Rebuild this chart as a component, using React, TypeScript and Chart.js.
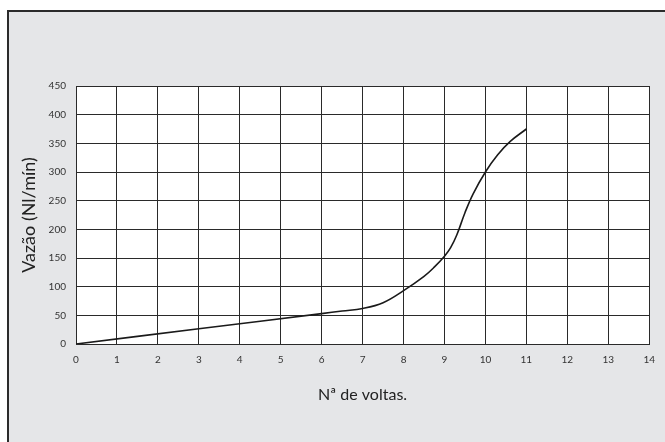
import React, { useEffect, useRef } from "react";
import { Chart, registerables } from "chart.js";

Chart.register(...registerables);

const turns = [0, 3, 6, 6.5, 7, 7.5, 8, 8.5, 8.75, 9, 9.15, 9.3, 9.5, 9.7, 10, 10.3, 10.6, 11];
const flow = [0, 26.6, 53, 57.6, 62, 72, 93, 118, 134, 153, 168, 190, 229, 262, 300, 330, 353, 375];
const xTicks = [0, 1, 2, 3, 4, 5, 6, 7, 8, 9, 10, 11, 12, 13, 14];
const yTicks = [0, 50, 100, 150, 200, 250, 300, 350, 400, 450];
const xTitle = "Nª de voltas.";
const yTitle = "Vazão (Nl/mín)";

const plotBg = {
  id: "plotBg",
  beforeDraw(chart: any) {
    const { ctx, chartArea } = chart;
    ctx.save();
    ctx.fillStyle = "#ffffff";
    ctx.fillRect(chartArea.left, chartArea.top, chartArea.right - chartArea.left, chartArea.bottom - chartArea.top);
    ctx.restore();
  },
};

export default function App() {
  const ref = useRef<HTMLCanvasElement>(null);
  useEffect(() => {
    document.body.style.margin = "0";
    const chart = new Chart(ref.current!, {
      type: "scatter",
      data: {
        datasets: [
          {
            data: turns.map((t, i) => ({ x: t, y: flow[i] })),
            showLine: true,
            borderColor: "#1a1a1a",
            borderWidth: 1.6,
            pointRadius: 0,
            tension: 0.4,
          },
        ],
      },
      options: {
        responsive: false,
        animation: false,
        layout: { padding: { left: 18, right: 10, top: 86, bottom: 38 } },
        plugins: { legend: { display: false }, tooltip: { enabled: false } },
        scales: {
          x: {
            type: "linear",
            min: 0,
            max: 14,
            afterBuildTicks: (s: any) => {
              s.ticks = xTicks.map((v) => ({ value: v }));
            },
            afterFit: (s: any) => {
              s.height = 60;
            },
            grid: { color: "#2a2a2a", lineWidth: 1, drawTicks: false },
            border: { color: "#2a2a2a", width: 1 },
            ticks: {
              padding: 10,
              color: "#333",
              font: { family: "Lato", size: 10 },
            },
            title: {
              display: true,
              text: xTitle,
              color: "#222",
              font: { family: "Lato", size: 16 },
              padding: { top: 0, bottom: 0 },
            },
          },
          y: {
            min: 0,
            max: 450,
            afterBuildTicks: (s: any) => {
              s.ticks = yTicks.map((v) => ({ value: v }));
            },
            afterFit: (s: any) => {
              s.width = 58;
            },
            grid: { color: "#2a2a2a", lineWidth: 1, drawTicks: false },
            border: { color: "#2a2a2a", width: 1 },
            ticks: {
              padding: 10,
              color: "#333",
              font: { family: "Lato", size: 10 },
            },
            title: {
              display: true,
              text: yTitle,
              color: "#222",
              font: { family: "Lato", size: 18 },
              padding: { top: 0, bottom: 0 },
            },
          },
        },
      },
      plugins: [plotBg],
    });
    return () => chart.destroy();
  }, []);
  return (
    <div style={{ position: "relative", width: 665, height: 442, overflow: "hidden", background: "#ffffff" }}>
      <div
        style={{
          position: "absolute",
          left: 7,
          top: 10,
          width: 700,
          height: 500,
          background: "#e5e6e8",
          borderLeft: "2px solid #2b2b2b",
          borderTop: "2px solid #2b2b2b",
        }}
      />
      <canvas ref={ref} width={665} height={442} style={{ position: "absolute", left: 0, top: 0 }} />
    </div>
  );
}
